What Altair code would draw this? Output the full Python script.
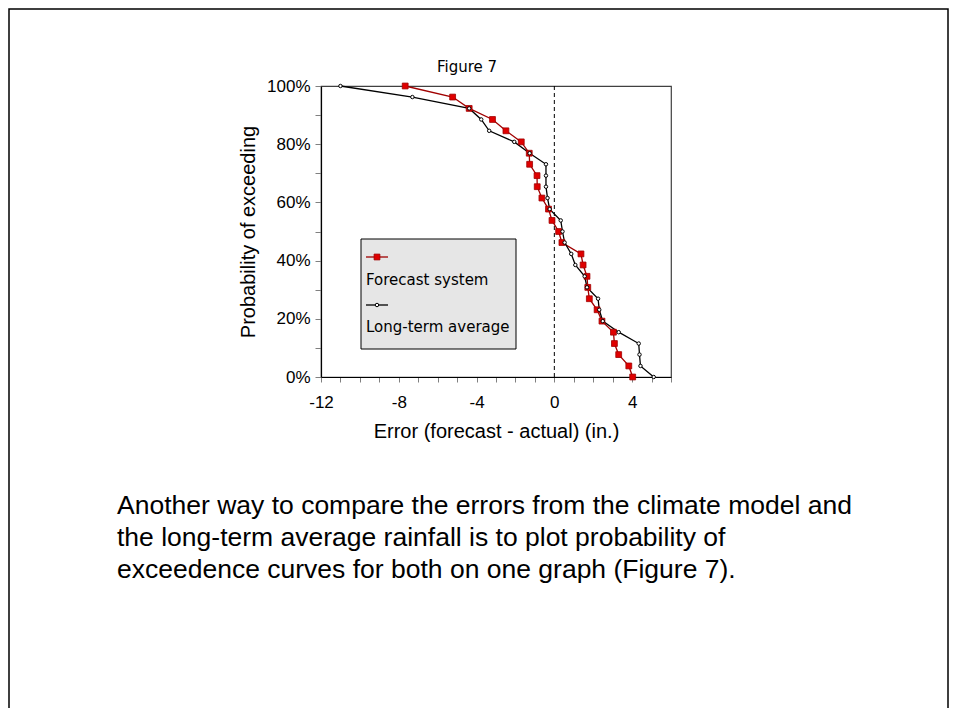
import altair as alt
import pandas as pd

# ---- data ----
prob = [100, 96.2, 92.3, 88.5, 84.6, 80.8, 76.9, 73.1, 69.2, 65.4, 61.5, 57.7, 53.8,
        50, 46.2, 42.3, 38.5, 34.6, 30.8, 26.9, 23.1, 19.2, 15.4, 11.5, 7.7, 3.8, 0]
forecast_err = [-7.67, -5.23, -4.38, -3.18, -2.49, -1.70, -1.29, -1.27, -0.89, -0.88,
                -0.64, -0.30, -0.12, 0.22, 0.39, 1.37, 1.48, 1.68, 1.72, 1.80, 2.20,
                2.45, 3.04, 3.09, 3.31, 3.83, 4.03]
average_err = [-11.0, -7.30, -4.38, -3.76, -3.35, -2.06, -1.27, -0.43, -0.43, -0.43,
               -0.35, -0.24, 0.33, 0.42, 0.53, 0.87, 1.08, 1.56, 1.68, 2.25, 2.31,
               2.49, 3.31, 4.34, 4.38, 4.43, 5.11]
series_names = ["Forecast system", "Long-term average"]
zero_line = [0]
x_ticks = [-12, -11, -10, -9, -8, -7, -6, -5, -4, -3, -2, -1, 0, 1, 2, 3, 4, 5, 6]
y_ticks = [0, 10, 20, 30, 40, 50, 60, 70, 80, 90, 100]
title_text = ["Figure 7"]
x_title = "Error (forecast - actual) (in.)"
y_title = "Probability of exceeding"
paragraph = [
    "Another way to compare the errors from the climate model and",
    "the long-term average rainfall is to plot probability of",
    "exceedence curves for both on one graph (Figure 7).",
]

fc_df = pd.DataFrame({"i": range(len(prob)), "p": prob, "err": forecast_err})
av_df = pd.DataFrame({"i": range(len(prob)), "p": prob, "err": average_err})
zero_df = pd.DataFrame({"err": zero_line})

W, H = 350, 291
RED_LINE = "#A00000"
RED_FILL = "#E00000"

xscale = alt.Scale(domain=[-12, 6], nice=False, zero=False)
yscale = alt.Scale(domain=[0, 100], nice=False)

AX_FONT = "Liberation Sans"
x_axis = alt.Axis(
    values=x_ticks,
    labelExpr="datum.value % 4 == 0 ? toString(datum.value) : ''",
    title=x_title, titleFont=AX_FONT, titleFontSize=20, titleFontWeight="normal",
    titleColor="black", titlePadding=11,
    labelFont=AX_FONT, labelFontSize=17, labelColor="black", labelPadding=12,
    labelFlush=False, labelOverlap=False,
    domainColor="black", domainWidth=1.2,
    tickColor="#808080", tickSize=5, tickWidth=1, grid=False,
)
y_axis = alt.Axis(
    values=y_ticks,
    labelExpr="datum.value % 20 == 0 ? datum.value + '%' : ''",
    title=y_title, titleFont=AX_FONT, titleFontSize=20, titleFontWeight="normal",
    titleColor="black", titlePadding=8,
    labelFont=AX_FONT, labelFontSize=17, labelColor="black", labelPadding=5,
    labelFlush=False, labelOverlap=False,
    domainColor="black", domainWidth=1.2,
    tickColor="#808080", tickSize=6, tickWidth=1, grid=False,
)

X = alt.X("err:Q", scale=xscale, axis=x_axis)
Y = alt.Y("p:Q", scale=yscale, axis=y_axis)

# frame around the slide
frame = alt.Chart(pd.DataFrame({"a": [0]})).mark_rect(
    fill=None, stroke="black", strokeWidth=1.5, clip=False
).encode(x=alt.value(-312), x2=alt.value(W + 277), y=alt.value(-77), y2=alt.value(H + 345))

zero_rule = alt.Chart(zero_df).mark_rule(color="black", strokeDash=[4, 3], strokeWidth=1).encode(
    x=X
)

fc_line = alt.Chart(fc_df).mark_line(color=RED_LINE, strokeWidth=1.3).encode(
    x=X, y=Y, order="i:Q",
)
fc_pts = alt.Chart(fc_df).mark_point(
    shape="square", filled=True, fill=RED_FILL, stroke=RED_LINE, strokeWidth=0.8, size=34, opacity=1
).encode(x=X, y=Y)
av_line = alt.Chart(av_df).mark_line(color="black", strokeWidth=1.3).encode(
    x=X, y=Y, order="i:Q",
)
av_pts = alt.Chart(av_df).mark_point(
    shape="circle", filled=False, fill="white", stroke="black", strokeWidth=1, size=12, opacity=1
).encode(x=X, y=Y)

# legend (built by hand so the sample sits above the label)
one = pd.DataFrame({"a": [0]})
LEG_FONT = "DejaVu Sans"
leg_box = alt.Chart(one).mark_rect(fill="#E6E6E6", stroke="black", strokeWidth=1).encode(
    x=alt.value(40), x2=alt.value(195), y=alt.value(153), y2=alt.value(263)
)
leg_fc_rule = alt.Chart(one).mark_rule(color=RED_LINE, strokeWidth=1.3).encode(
    x=alt.value(45), x2=alt.value(67), y=alt.value(171)
)
leg_fc_pt = alt.Chart(one).mark_point(
    shape="square", filled=True, fill=RED_FILL, stroke=RED_LINE, strokeWidth=0.8, size=34, opacity=1
).encode(x=alt.value(56), y=alt.value(171))
leg_av_rule = alt.Chart(one).mark_rule(color="black", strokeWidth=1.3).encode(
    x=alt.value(45), x2=alt.value(67), y=alt.value(219)
)
leg_av_pt = alt.Chart(one).mark_point(
    shape="circle", filled=False, fill="white", stroke="black", strokeWidth=1, size=12, opacity=1
).encode(x=alt.value(56), y=alt.value(219))
leg_fc_txt = alt.Chart(pd.DataFrame({"t": [series_names[0]]})).mark_text(
    align="left", baseline="middle", font=LEG_FONT, fontSize=15, color="black"
).encode(x=alt.value(45), y=alt.value(194), text="t:N")
leg_av_txt = alt.Chart(pd.DataFrame({"t": [series_names[1]]})).mark_text(
    align="left", baseline="middle", font=LEG_FONT, fontSize=15, color="black"
).encode(x=alt.value(45), y=alt.value(241), text="t:N")

title = alt.Chart(pd.DataFrame({"t": title_text})).mark_text(
    align="center", baseline="middle", font="DejaVu Sans", fontSize=15, color="black"
).encode(x=alt.value(146), y=alt.value(-19), text="t:N")

para = alt.Chart(one).mark_text(
    align="left", baseline="top", font="Liberation Sans", fontSize=26.5, lineHeight=32,
    color="black"
).encode(x=alt.value(-204), y=alt.value(407), text=alt.value(paragraph))

chart = alt.layer(
    frame, zero_rule, fc_line, av_line, fc_pts, av_pts,
    leg_box, leg_fc_rule, leg_fc_pt, leg_av_rule, leg_av_pt, leg_fc_txt, leg_av_txt,
    title, para,
).properties(
    width=W, height=H,
    autosize=alt.AutoSizeParams(type="none"),
    padding={"left": 313, "top": 78, "right": 279, "bottom": 331},
    background="white",
).configure_view(
    stroke="#404040", strokeWidth=1.2
)

chart.save("out.html", embed_options={"renderer": "svg", "actions": False})
